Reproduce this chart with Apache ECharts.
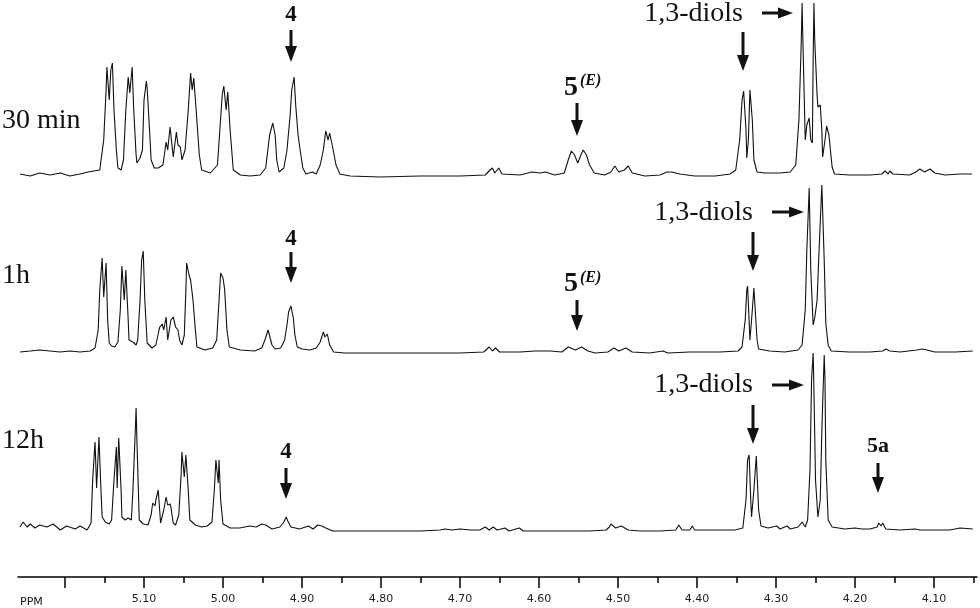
<!DOCTYPE html>
<html>
<head>
    <meta charset="utf-8"/>
    <title>1H NMR</title>
    <script src="https://cdn.jsdelivr.net/npm/echarts@6/dist/echarts.min.js"></script>
    <style>
        html, body { margin: 0; padding: 0; background: #fff; }
        #chart { width: 980px; height: 608px; }
    </style>
</head>
<body>
<div id="chart"></div>
<script>
    // axis ticks (ppm)
    var ppmMajor = [5.2, 5.1, 5.0, 4.9, 4.8, 4.7, 4.6, 4.5, 4.4, 4.3, 4.2, 4.1];
    var ppmLabels = [5.1, 5.0, 4.9, 4.8, 4.7, 4.6, 4.5, 4.4, 4.3, 4.2, 4.1];
    var ppmMinor = [5.15, 5.05, 4.95, 4.85, 4.75, 4.65, 4.55, 4.45, 4.35, 4.25, 4.15, 4.05];

    // spectra: [ppm, intensity]
    var trace30min = [
        [5.257,1],[5.244,-1],[5.232,2],[5.219,0],[5.206,2],[5.194,-1],[5.181,1],[5.171,3],
        [5.156,5],[5.151,35],[5.148,85],[5.147,108],[5.144,75],[5.142,105],[5.140,112],[5.138,65],
        [5.135,25],[5.133,7],[5.129,5],[5.126,15],[5.123,65],[5.120,98],[5.118,82],[5.115,108],
        [5.113,65],[5.110,20],[5.109,12],[5.105,17],[5.102,25],[5.100,75],[5.097,94],[5.096,87],
        [5.093,45],[5.091,15],[5.087,7],[5.082,7],[5.076,10],[5.072,33],[5.070,25],[5.067,48],
        [5.063,18],[5.059,43],[5.057,30],[5.054,28],[5.052,15],[5.048,25],[5.044,65],[5.041,102],
        [5.039,85],[5.037,97],[5.034,65],[5.030,20],[5.027,5],[5.016,2],[5.007,10],[5.004,45],
        [5.001,80],[4.999,89],[4.996,65],[4.994,83],[4.991,45],[4.987,5],[4.978,0],[4.966,-1],
        [4.953,0],[4.946,7],[4.941,40],[4.937,52],[4.934,40],[4.932,15],[4.929,3],[4.923,7],
        [4.919,25],[4.915,60],[4.913,85],[4.910,98],[4.908,70],[4.905,40],[4.902,23],[4.899,7],
        [4.895,1],[4.887,3],[4.882,1],[4.877,10],[4.873,25],[4.870,44],[4.867,35],[4.865,42],
        [4.861,27],[4.857,10],[4.852,1],[4.839,-1],[4.801,-2],[4.751,-1],[4.700,-1],[4.668,0],
        [4.662,5],[4.659,7],[4.656,2],[4.651,7],[4.647,1],[4.624,0],[4.609,3],[4.599,2],
        [4.592,3],[4.580,0],[4.568,2],[4.563,15],[4.559,24],[4.555,20],[4.551,12],[4.547,20],
        [4.544,25],[4.540,20],[4.536,10],[4.530,2],[4.517,0],[4.509,3],[4.504,9],[4.499,3],
        [4.492,5],[4.487,9],[4.482,2],[4.466,-1],[4.447,0],[4.438,3],[4.432,3],[4.422,1],
        [4.403,-1],[4.377,-1],[4.358,1],[4.351,5],[4.346,35],[4.343,75],[4.341,84],[4.338,45],
        [4.337,17],[4.335,35],[4.333,85],[4.330,55],[4.328,15],[4.324,3],[4.314,2],[4.295,2],
        [4.282,3],[4.275,10],[4.271,55],[4.268,135],[4.267,172],[4.266,135],[4.263,35],[4.261,50],
        [4.258,57],[4.256,35],[4.254,32],[4.253,115],[4.252,172],[4.251,135],[4.248,80],[4.247,68],
        [4.244,70],[4.242,45],[4.241,18],[4.238,35],[4.236,49],[4.233,40],[4.229,8],[4.226,1],
        [4.207,0],[4.181,0],[4.166,1],[4.162,4],[4.158,1],[4.156,4],[4.152,1],[4.131,0],
        [4.123,3],[4.118,6],[4.112,3],[4.105,6],[4.099,2],[4.086,0],[4.067,1],[4.052,1]
    ];

    var trace1h = [
        [5.257,0],[5.244,1],[5.232,2],[5.219,1],[5.206,0],[5.194,1],[5.181,0],[5.168,1],
        [5.162,4],[5.158,22],[5.156,62],[5.153,94],[5.151,55],[5.148,89],[5.146,32],[5.144,9],
        [5.141,6],[5.137,5],[5.133,10],[5.130,42],[5.128,86],[5.125,52],[5.123,82],[5.120,32],
        [5.119,12],[5.114,10],[5.110,7],[5.108,12],[5.105,52],[5.103,92],[5.101,101],[5.099,52],
        [5.096,9],[5.090,4],[5.085,7],[5.081,22],[5.080,25],[5.077,28],[5.075,22],[5.072,35],
        [5.070,12],[5.066,32],[5.063,35],[5.060,25],[5.057,22],[5.055,12],[5.052,7],[5.049,17],
        [5.047,62],[5.046,89],[5.043,77],[5.041,72],[5.038,52],[5.035,22],[5.033,5],[5.023,2],
        [5.013,4],[5.008,12],[5.005,52],[5.003,79],[5.000,74],[4.998,63],[4.995,22],[4.992,5],
        [4.978,2],[4.960,1],[4.951,4],[4.947,12],[4.943,22],[4.941,20],[4.938,7],[4.934,3],
        [4.927,4],[4.922,12],[4.919,27],[4.917,40],[4.914,46],[4.911,34],[4.909,17],[4.906,5],
        [4.900,3],[4.890,2],[4.882,4],[4.877,10],[4.873,20],[4.871,15],[4.868,18],[4.865,7],
        [4.860,0],[4.846,-1],[4.801,-1],[4.751,-1],[4.700,-1],[4.670,0],[4.663,5],[4.659,1],
        [4.655,4],[4.650,0],[4.624,0],[4.605,1],[4.586,1],[4.571,0],[4.563,5],[4.554,2],
        [4.546,5],[4.538,1],[4.529,-1],[4.513,0],[4.505,4],[4.499,1],[4.490,4],[4.482,0],
        [4.460,-1],[4.443,1],[4.437,-1],[4.409,0],[4.371,0],[4.348,1],[4.343,5],[4.339,32],
        [4.337,62],[4.336,66],[4.333,12],[4.330,42],[4.328,64],[4.327,66],[4.324,12],[4.322,3],
        [4.308,1],[4.289,0],[4.272,2],[4.267,7],[4.263,42],[4.261,102],[4.258,164],[4.256,82],
        [4.253,27],[4.251,34],[4.248,52],[4.246,92],[4.242,167],[4.239,92],[4.237,29],[4.234,7],
        [4.230,1],[4.207,0],[4.181,0],[4.165,1],[4.161,3],[4.156,1],[4.143,0],[4.122,2],
        [4.115,3],[4.109,2],[4.099,0],[4.073,0],[4.051,1]
    ];

    var trace12h = [
        [5.257,2],[5.253,7],[5.248,2],[5.244,5],[5.238,1],[5.232,4],[5.223,2],[5.215,5],
        [5.206,-1],[5.198,3],[5.187,0],[5.181,3],[5.172,-1],[5.167,6],[5.165,49],[5.162,87],
        [5.160,41],[5.157,92],[5.155,49],[5.153,12],[5.149,7],[5.144,5],[5.141,9],[5.138,49],
        [5.135,82],[5.134,41],[5.132,91],[5.129,39],[5.128,12],[5.124,9],[5.120,11],[5.116,9],
        [5.114,39],[5.111,99],[5.110,121],[5.109,89],[5.106,9],[5.101,5],[5.095,4],[5.091,14],
        [5.089,26],[5.086,23],[5.085,29],[5.082,39],[5.079,6],[5.075,19],[5.072,32],[5.070,24],
        [5.067,25],[5.066,22],[5.063,6],[5.060,4],[5.056,14],[5.053,54],[5.052,77],[5.049,52],
        [5.047,74],[5.044,39],[5.042,9],[5.035,4],[5.027,2],[5.020,3],[5.014,7],[5.011,39],
        [5.009,69],[5.006,46],[5.005,69],[5.003,29],[5.000,5],[4.991,1],[4.979,1],[4.966,3],
        [4.958,2],[4.951,5],[4.946,4],[4.938,0],[4.928,2],[4.923,7],[4.920,12],[4.918,8],
        [4.914,2],[4.903,0],[4.892,3],[4.886,0],[4.880,4],[4.875,3],[4.870,1],[4.861,-2],
        [4.846,-2],[4.801,-2],[4.751,-2],[4.725,-1],[4.719,0],[4.710,-1],[4.700,0],[4.687,-1],
        [4.675,-1],[4.668,2],[4.663,-1],[4.658,2],[4.653,-1],[4.643,1],[4.638,-2],[4.625,1],
        [4.620,-2],[4.586,-2],[4.536,-2],[4.515,-1],[4.511,2],[4.509,5],[4.503,1],[4.496,3],
        [4.494,4],[4.487,-1],[4.472,-2],[4.447,-2],[4.427,-1],[4.423,4],[4.419,-1],[4.409,-1],
        [4.406,3],[4.403,-1],[4.371,-1],[4.352,-1],[4.342,1],[4.338,29],[4.336,69],[4.334,74],
        [4.332,29],[4.331,12],[4.328,39],[4.325,73],[4.324,75],[4.322,19],[4.319,3],[4.310,1],
        [4.299,3],[4.295,0],[4.286,3],[4.282,0],[4.272,2],[4.267,7],[4.263,2],[4.260,9],
        [4.257,59],[4.255,149],[4.253,176],[4.252,139],[4.250,49],[4.247,12],[4.244,29],[4.242,99],
        [4.239,174],[4.238,149],[4.237,69],[4.234,9],[4.229,2],[4.213,0],[4.200,1],[4.191,0],
        [4.181,0],[4.172,2],[4.170,6],[4.167,3],[4.165,6],[4.161,0],[4.143,-1],[4.124,0],
        [4.122,2],[4.118,-1],[4.099,-1],[4.080,-1],[4.067,1],[4.051,0]
    ];

    var traceNames = ['30 min', '1h', '12h'];

    var ink = '#111';
    var serif = '"Liberation Serif", "DejaVu Serif", serif';

    // 注释: 文字与箭头
    function txt(x, y, s, size, opt) {
        opt = opt || {};
        return {
            type: 'text', x: x, y: y, silent: true,
            style: {
                text: s, fill: ink,
                font: (opt.style || '') + ' ' + (opt.weight || 'normal') + ' ' + size + 'px ' + (opt.family || serif),
                align: opt.align || 'left', verticalAlign: 'middle'
            }
        };
    }
    function downArrow(x, y1, y2) {
        return [
            {type: 'line', silent: true, shape: {x1: x, y1: y1, x2: x, y2: y2 - 13}, style: {stroke: ink, lineWidth: 3}},
            {type: 'polygon', silent: true, shape: {points: [[x - 6, y2 - 16], [x + 6, y2 - 16], [x, y2]]}, style: {fill: ink}}
        ];
    }
    function rightArrow(x1, x2, y) {
        return [
            {type: 'line', silent: true, shape: {x1: x1, y1: y, x2: x2 - 12, y2: y}, style: {stroke: ink, lineWidth: 3}},
            {type: 'polygon', silent: true, shape: {points: [[x2 - 15, y - 5.5], [x2 - 15, y + 5.5], [x2, y]]}, style: {fill: ink}}
        ];
    }

    var notes = [
        txt(2, 121, traceNames[0], 28),
        txt(2, 276, traceNames[1], 28),
        txt(2, 441, traceNames[2], 28),
        txt(291, 15, '4', 23, {weight: 'bold', align: 'center'}),
        txt(291, 239, '4', 23, {weight: 'bold', align: 'center'}),
        txt(286, 452, '4', 23, {weight: 'bold', align: 'center'}),
        txt(571, 88, '5', 28, {weight: 'bold', align: 'center'}),
        txt(580, 81, '(E)', 16, {weight: 'bold', style: 'italic'}),
        txt(571, 284, '5', 28, {weight: 'bold', align: 'center'}),
        txt(580, 278, '(E)', 16, {weight: 'bold', style: 'italic'}),
        txt(743, 14, '1,3-diols', 28, {align: 'right'}),
        txt(753, 213, '1,3-diols', 28, {align: 'right'}),
        txt(753, 385, '1,3-diols', 28, {align: 'right'}),
        txt(878, 446, '5a', 22, {weight: 'bold', align: 'center'}),
        txt(20, 602, 'PPM', 11, {family: '"DejaVu Sans", Verdana, sans-serif'})
    ].concat(
        downArrow(291, 30, 62),
        downArrow(291, 252, 283),
        downArrow(286, 468, 499),
        downArrow(577, 103, 136),
        downArrow(577, 300, 331),
        downArrow(743, 32, 71),
        downArrow(753, 232, 271),
        downArrow(753, 405, 444),
        downArrow(878, 463, 493),
        rightArrow(762, 793, 13),
        rightArrow(772, 804, 212),
        rightArrow(772, 804, 385)
    );

    var myChart = echarts.init(document.getElementById('chart'), null, {renderer: 'canvas'});

    var xMin = 4.0456, xMax = 5.2595;

    function spectrum(name, data, yIndex) {
        return {
            name: name, type: 'line', data: data, yAxisIndex: yIndex,
            symbol: 'none', smooth: false, clip: false,
            lineStyle: {color: ink, width: 1.1}
        };
    }

    var option = {
        animation: false,
        backgroundColor: '#fff',
        grid: {left: 18, right: 3, top: 0, bottom: 31},
        xAxis: [{
            type: 'value', inverse: true, min: xMin, max: xMax, position: 'bottom',
            axisLine: {onZero: false, lineStyle: {color: '#000', width: 1.5}},
            axisTick: {customValues: ppmMajor, length: 11, lineStyle: {color: '#000', width: 1.5}},
            axisLabel: {
                customValues: ppmLabels, margin: 17,
                fontFamily: '"DejaVu Sans", Verdana, sans-serif', fontSize: 11, color: '#222',
                formatter: function (v) { return v.toFixed(2); }
            },
            splitLine: {show: false}
        }, {
            type: 'value', inverse: true, min: xMin, max: xMax, position: 'bottom',
            axisLine: {show: false, onZero: false},
            axisTick: {customValues: ppmMinor, length: 6, lineStyle: {color: '#000', width: 1.5}},
            axisLabel: {show: false},
            splitLine: {show: false}
        }],
        // each trace has its own hidden y axis, so the stack is 1 unit = 1 px
        yAxis: [
            {type: 'value', show: false, min: -402, max: 175},
            {type: 'value', show: false, min: -225, max: 352},
            {type: 'value', show: false, min: -48, max: 529}
        ],
        series: [
            spectrum(traceNames[0], trace30min, 0),
            spectrum(traceNames[1], trace1h, 1),
            spectrum(traceNames[2], trace12h, 2)
        ],
        graphic: notes
    };
    myChart.setOption(option);

    window.onresize = function () {
        myChart.resize();
    };
</script>
</body>
</html>
